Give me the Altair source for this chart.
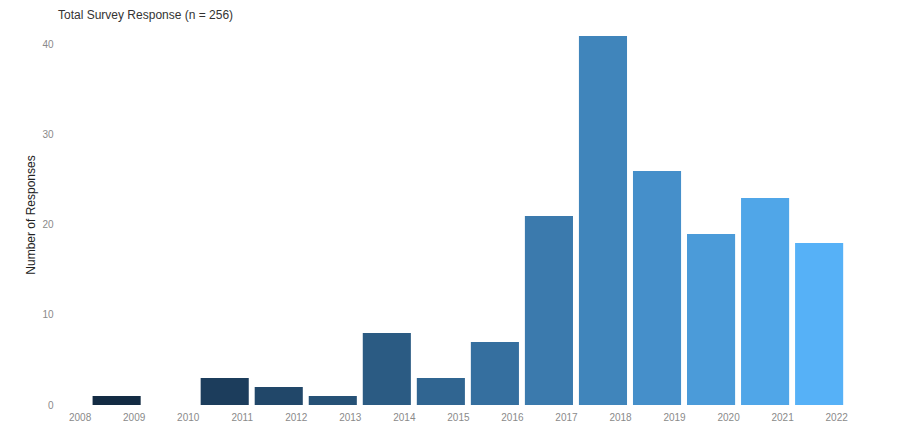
import altair as alt
import pandas as pd

years = [2009, 2010, 2011, 2012, 2013, 2014, 2015, 2016, 2017, 2018, 2019, 2020, 2021, 2022]
counts = [1, 0, 3, 2, 1, 8, 3, 7, 21, 41, 26, 19, 23, 18]
x_ticks = list(range(2008, 2023))
y_ticks = [0, 10, 20, 30, 40]

df = pd.DataFrame({"year": years, "count": counts})

FONT = "Liberation Sans"

chart = (
    alt.Chart(df)
    .transform_calculate(start="datum.year - 0.76", end="datum.year + 0.13")
    .mark_bar()
    .encode(
        x=alt.X(
            "start:Q",
            scale=alt.Scale(domain=[2007.6, 2023.2], nice=False, zero=False),
            axis=alt.Axis(
                values=x_ticks, format="d", title=None, domain=False, ticks=False,
                grid=False, labelPadding=7, labelColor="#8a8a8a", labelFontSize=10,
                labelFont=FONT, labelOverlap=False,
            ),
        ),
        x2="end:Q",
        y=alt.Y(
            "count:Q",
            scale=alt.Scale(domain=[0, 42.33], nice=False),
            axis=alt.Axis(
                values=y_ticks, title="Number of Responses", domain=False, ticks=False,
                grid=False, labelPadding=5, labelColor="#8a8a8a", labelFontSize=10,
                labelFont=FONT, titleFont=FONT, titleFontSize=12, titleColor="#222222",
                titleFontWeight="normal", titlePadding=4,
            ),
        ),
        y2=alt.datum(0),
        color=alt.Color(
            "year:Q",
            scale=alt.Scale(domain=[2009, 2022], range=["#132B43", "#56B1F7"], interpolate="lab"),
            legend=None,
        ),
    )
    .properties(
        width=843,
        height=381,
        title=alt.TitleParams(
            "Total Survey Response (n = 256)", anchor="start", frame="group", fontSize=12,
            color="#333333", font=FONT, fontWeight="normal", offset=2,
        ),
        autosize=alt.AutoSizeParams(type="none"),
        padding={"left": 50, "top": 16, "right": 2, "bottom": 21},
    )
    .configure_view(stroke=None)
)

chart.save("out.html", embed_options={"renderer": "svg", "actions": False})
